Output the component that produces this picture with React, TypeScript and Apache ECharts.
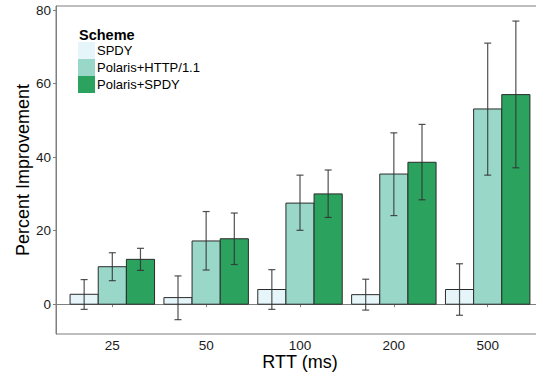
import React, { useEffect, useRef } from "react";
import * as echarts from "echarts";

const categories = ["25", "50", "100", "200", "500"];
const schemes = ["SPDY", "Polaris+HTTP/1.1", "Polaris+SPDY"];
const colors = ["#e5f5f9", "#99d8c9", "#2ca25f"];

// mean, lower, upper per RTT category
const spdyMean = [2.7, 1.8, 4.0, 2.6, 4.0];
const spdyLow = [-1.4, -4.2, -1.4, -1.6, -3.0];
const spdyHigh = [6.7, 7.7, 9.4, 6.8, 11.0];

const httpMean = [10.2, 17.2, 27.5, 35.4, 53.1];
const httpLow = [6.4, 9.3, 20.1, 24.1, 35.1];
const httpHigh = [14.0, 25.2, 35.1, 46.6, 71.0];

const polSpdyMean = [12.2, 17.8, 30.0, 38.6, 57.0];
const polSpdyLow = [9.2, 10.8, 23.6, 28.4, 37.1];
const polSpdyHigh = [15.2, 24.8, 36.5, 48.9, 77.0];

const yTicks = [0, 20, 40, 60, 80];

const FONT = "'Liberation Sans', Arial, Helvetica, sans-serif";

export default function App() {
  const ref = useRef<HTMLDivElement>(null);
  useEffect(() => {
    if (!ref.current) return;
    const chart = echarts.init(ref.current, null, { renderer: "svg" });
    const all = [
      [spdyMean, spdyLow, spdyHigh],
      [httpMean, httpLow, httpHigh],
      [polSpdyMean, polSpdyLow, polSpdyHigh],
    ];
    const series = all.map((arr, si) => ({
      name: schemes[si],
      type: "custom",
      itemStyle: { color: colors[si] },
      encode: { x: 0, y: [1, 2, 3] },
      data: categories.map((_, i) => [i + 1, arr[0][i], arr[1][i], arr[2][i]]),
      renderItem: (params: any, api: any) => {
        const x = api.value(0) + (si - 1) * 0.3;
        const v = api.value(1);
        const lo = api.value(2);
        const hi = api.value(3);
        const bw = api.size([0.3, 0])[0];
        const p0 = api.coord([x, 0]);
        const p1 = api.coord([x, v]);
        const pl = api.coord([x, lo]);
        const ph = api.coord([x, hi]);
        const cap = 3.5;
        const eStyle = { stroke: "#333333", lineWidth: 1.2, opacity: 0.85 };
        return {
          type: "group",
          children: [
            {
              type: "rect",
              shape: { x: p0[0] - bw / 2, y: Math.min(p0[1], p1[1]), width: bw, height: Math.abs(p0[1] - p1[1]) },
              style: { fill: colors[si], stroke: "#2b2b2b", lineWidth: 1 },
            },
            { type: "line", shape: { x1: pl[0], y1: pl[1], x2: ph[0], y2: ph[1] }, style: eStyle },
            { type: "line", shape: { x1: ph[0] - cap, y1: ph[1], x2: ph[0] + cap, y2: ph[1] }, style: eStyle },
            { type: "line", shape: { x1: pl[0] - cap, y1: pl[1], x2: pl[0] + cap, y2: pl[1] }, style: eStyle },
          ],
        };
      },
    }));
    chart.setOption({
      animation: false,
      textStyle: { fontFamily: FONT },
      title: {
        text: "Scheme",
        left: 79,
        top: 27,
        padding: 0,
        textStyle: { fontSize: 14.5, fontWeight: "bold", color: "#000", fontFamily: FONT },
      },
      legend: {
        orient: "vertical",
        left: 78,
        top: 42,
        padding: 0,
        itemGap: 0,
        itemWidth: 17,
        itemHeight: 17,
        icon: "rect",
        itemStyle: { borderWidth: 0 },
        data: schemes,
        textStyle: { fontSize: 13, color: "#000", fontFamily: FONT, padding: [0, 0, 0, -3] },
      },
      grid: {
        left: 56,
        right: -8,
        top: 6,
        bottom: 40,
        outerBoundsMode: "none",
        containLabel: false,
        show: true,
        borderColor: "#7f7f7f",
        borderWidth: 1,
        backgroundColor: "transparent",
      },
      xAxis: {
        type: "value",
        min: 0.4,
        max: 5.6,
        name: "RTT (ms)",
        nameLocation: "middle",
        nameGap: 20,
        nameMoveOverlap: false,
        nameTextStyle: { fontSize: 18, lineHeight: 16, color: "#000", fontFamily: FONT },
        axisLine: { show: true, lineStyle: { color: "#7f7f7f", width: 1 } },
        axisTick: { show: true, length: 3, customValues: [1, 2, 3, 4, 5], lineStyle: { color: "#7f7f7f" } },
        axisLabel: {
          customValues: [1, 2, 3, 4, 5],
          formatter: (v: number) => categories[Math.round(v) - 1] ?? "",
          fontSize: 13.5,
          lineHeight: 13,
          color: "#1a1a1a",
          margin: 5,
          fontFamily: FONT,
        },
        splitLine: { show: false },
      },
      yAxis: {
        type: "value",
        min: -8.1,
        max: 81.1,
        name: "Percent Improvement",
        nameLocation: "middle",
        nameGap: 24,
        nameMoveOverlap: false,
        nameTextStyle: { fontSize: 18, color: "#000", fontFamily: FONT },
        axisLine: { show: true, lineStyle: { color: "#7f7f7f", width: 1 } },
        axisTick: { show: true, length: 3, customValues: yTicks, lineStyle: { color: "#7f7f7f" } },
        axisLabel: { customValues: yTicks, fontSize: 13.5, color: "#1a1a1a", margin: 5, fontFamily: FONT },
        splitLine: { show: false },
      },
      series,
    });
    return () => chart.dispose();
  }, []);
  return (
    <div
      ref={ref}
      style={{ position: "absolute", left: 0, top: 0, width: 536, height: 374, background: "#fff" }}
    />
  );
}
